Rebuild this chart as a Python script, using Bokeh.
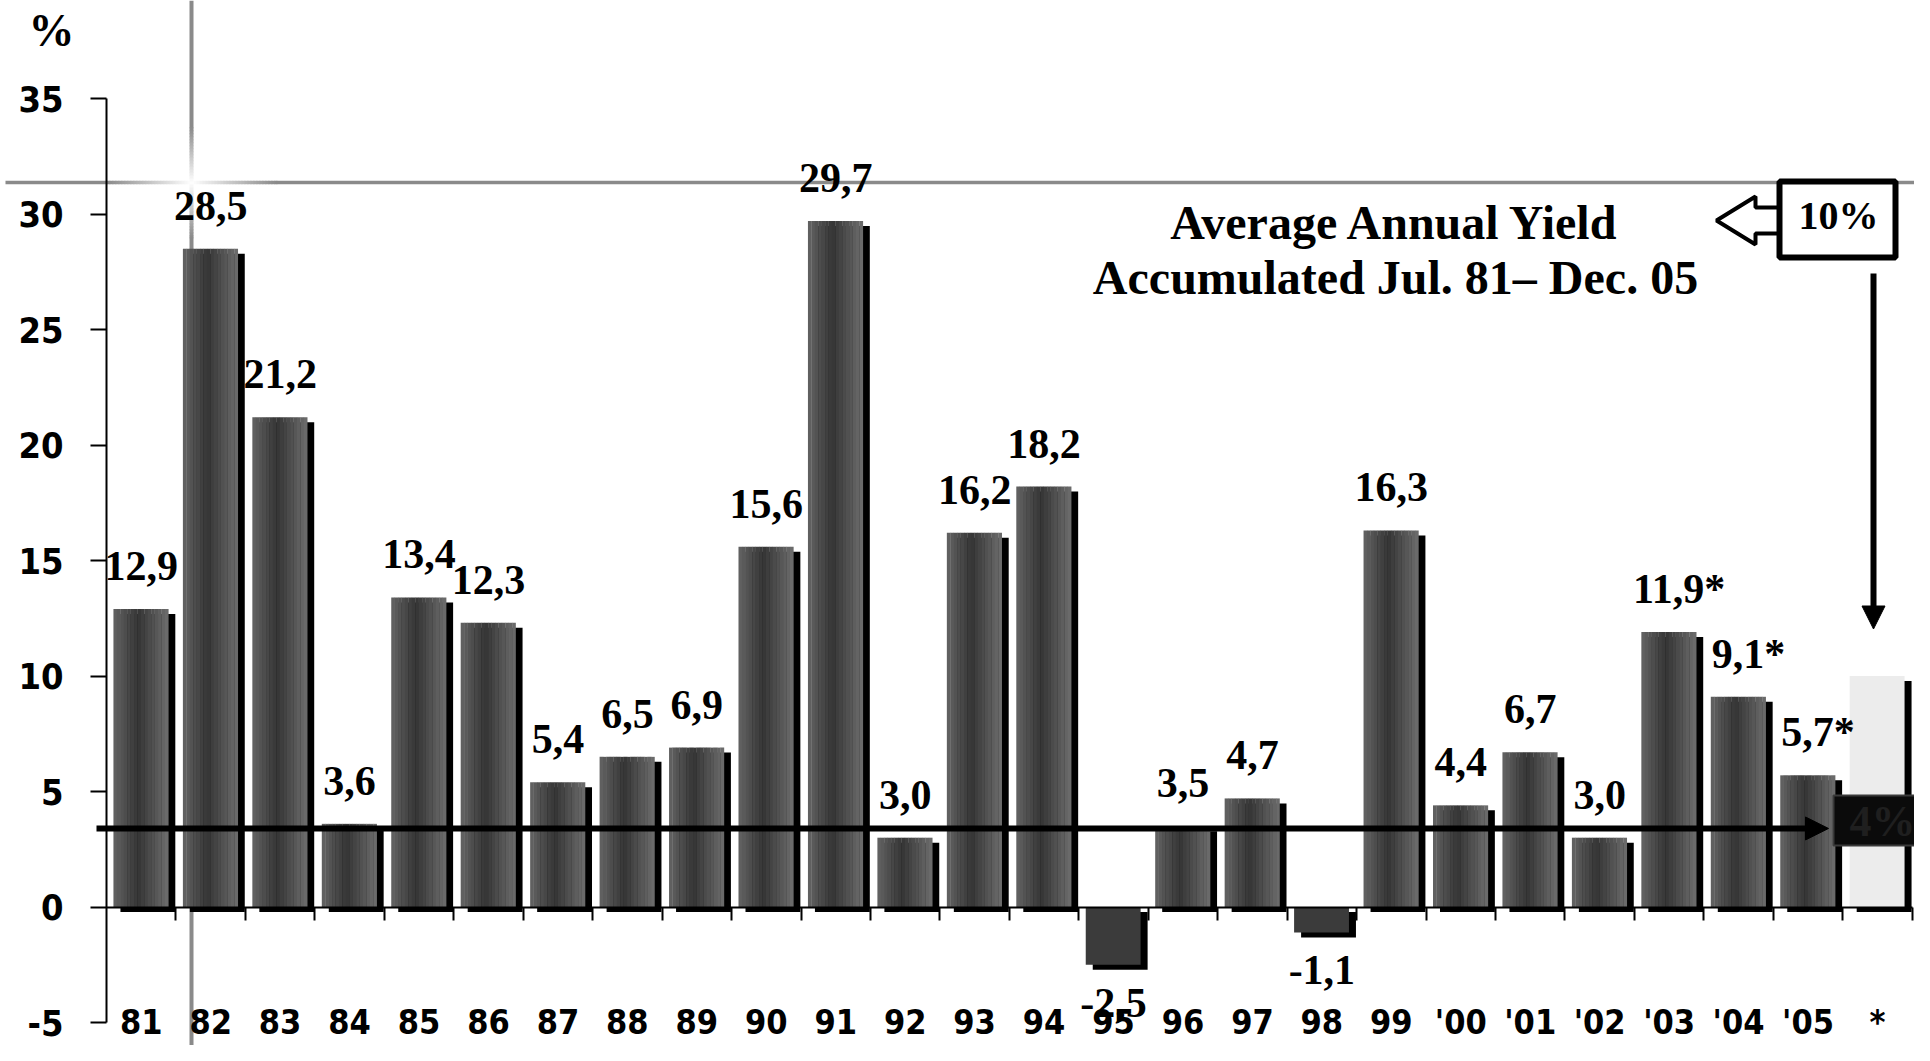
from bokeh.plotting import figure
from bokeh.models import Range1d, FixedTicker, Label, Arrow, NormalHead, LinearAxis, ColumnDataSource
from bokeh.core.properties import value
from bokeh.embed import file_html
from bokeh.resources import INLINE

# ---------------- data ----------------
categories = ["81", "82", "83", "84", "85", "86", "87", "88", "89", "90", "91", "92", "93",
              "94", "95", "96", "97", "98", "99", "'00", "'01", "'02", "'03", "'04", "'05", "*"]
yields = [12.9, 28.5, 21.2, 3.6, 13.4, 12.3, 5.4, 6.5, 6.9, 15.6, 29.7, 3.0, 16.2,
          18.2, -2.5, 3.5, 4.7, -1.1, 16.3, 4.4, 6.7, 3.0, 11.9, 9.1, 5.7]
estimated = ["'03", "'04", "'05"]
accum_yield = 10.0          # the "*" bar
accum_label = "10%"
avg_line_value = 3.4
avg_label = "4%"
y_ticks = [-5, 0, 5, 10, 15, 20, 25, 30, 35]
title_lines = ["Average Annual Yield", "Accumulated Jul. 81\u2013 Dec. 05"]
unit_label = "%"

# ---------------- geometry (pixel helpers) ----------------
PXX, PXY = 69.45, 23.1
X0, Z = 106, 906.5          # pixel position of x=0 and y=0
W, H = 1914, 1045

def rx(xp):
    return (xp - X0) / PXX

def ry(yp):
    return (Z - yp) / PXY

SERIF = "Liberation Serif"
COND = "DejaVu Sans Condensed, DejaVu Sans, sans-serif"

p = figure(width=W, height=H, output_backend="svg", toolbar_location=None,
           x_range=Range1d(rx(0), rx(W)), y_range=Range1d(ry(H), ry(0)),
           min_border_left=0, min_border_right=0, min_border_top=0, min_border_bottom=0)
p.outline_line_color = None
p.grid.visible = False
p.background_fill_color = "white"

# y axis, drawn at x = 0
yax = p.yaxis[0]
yax.fixed_location = 0
yax.ticker = FixedTicker(ticks=y_ticks)
yax.major_label_overrides = {t: str(t) for t in y_ticks}
yax.bounds = (y_ticks[0], y_ticks[-1])
yax.axis_line_width = 2
yax.axis_line_color = "black"
yax.major_tick_line_width = 2
yax.major_tick_out = 16
yax.major_tick_in = 0
yax.minor_tick_out = 0
yax.minor_tick_in = 0
yax.major_label_standoff = 27
yax.major_label_text_font = COND
yax.major_label_text_font_style = "bold"
yax.major_label_text_font_size = "36px"
yax.major_label_text_color = "black"

n = len(categories)
bounds_ticks = list(range(1, n + 1))
centers = [i + 0.5 for i in range(n)]

# x axis line + ticks between categories, drawn at y = 0
xax = p.xaxis[0]
xax.fixed_location = 0
xax.ticker = FixedTicker(ticks=bounds_ticks)
xax.major_label_overrides = {t: "" for t in bounds_ticks}
xax.bounds = (0, n)
xax.axis_line_width = 2
xax.axis_line_color = "black"
xax.major_tick_line_width = 2
xax.major_tick_out = 13
xax.major_tick_in = 0
xax.minor_tick_out = 0
xax.minor_tick_in = 0

# category labels (axis at y = 0, labels pushed to the bottom)
lab = LinearAxis(fixed_location=0, ticker=FixedTicker(ticks=centers),
                 major_label_overrides=dict(zip(centers, categories)))
lab.axis_line_color = None
lab.major_tick_out = 0
lab.major_tick_in = 0
lab.minor_tick_out = 0
lab.minor_tick_in = 0
lab.major_label_standoff = 95
lab.major_label_text_font = COND
lab.major_label_text_font_style = "bold"
lab.major_label_text_font_size = "34px"
lab.major_label_text_color = "black"
p.add_layout(lab, "below")

# ---------------- decorative gray cross with glow ----------------
GRAY = 0x8a

def glow(d, R):
    c = GRAY if d >= R else int(255 - (255 - GRAY) * (d / R))
    return "#%02x%02x%02x" % (c, c, c)

HX, HY = 191, 182
Rh = 85
xs = [5, HX - Rh] + list(range(HX - Rh + 3, HX + Rh, 3)) + [HX + Rh, W]
hx0, hx1, hc = [], [], []
for a, b in zip(xs[:-1], xs[1:]):
    hx0.append(rx(a)); hx1.append(rx(b + 0.8))
    hc.append(glow(abs((a + b) / 2 - HX), Rh))
p.segment(x0=hx0, x1=hx1, y0=[ry(HY)] * len(hx0), y1=[ry(HY)] * len(hx0),
          line_color=hc, line_width=3.5)

Rv = 55
ys = [0, HY - Rv] + list(range(HY - Rv + 3, HY + Rv, 3)) + [HY + Rv, H]
vy0, vy1, vc = [], [], []
for a, b in zip(ys[:-1], ys[1:]):
    vy0.append(ry(a)); vy1.append(ry(b + 0.8))
    vc.append(glow(abs((a + b) / 2 - HY), Rv))
p.segment(x0=[rx(HX)] * len(vy0), x1=[rx(HX)] * len(vy0), y0=vy0, y1=vy1,
          line_color=vc, line_width=4)

# ---------------- bars ----------------
all_vals = yields + [accum_yield]
BL, BW = 0.10, 0.79
SX, SY = 7 / PXX, 5 / PXY

p.quad(left=[i + BL + SX for i in range(n)], right=[i + BL + BW + SX for i in range(n)],
       top=[max(v, 0) - SY for v in all_vals], bottom=[min(v, 0) - SY for v in all_vals],
       fill_color="black", line_color=None)

NS = 16
sl, sr, st, sb, sc = [], [], [], [], []
for i, v in enumerate(yields):
    if v < 0:
        continue
    for k in range(NS):
        t = (k + 0.5) / NS
        c = int(0x36 + (0x6e - 0x36) * abs(t - 0.45) / 0.55)
        sl.append(i + BL + BW * k / NS)
        sr.append(i + BL + BW * (k + 1) / NS + 0.004)
        st.append(v); sb.append(0)
        sc.append("#%02x%02x%02x" % (c, c, c))
p.quad(left=sl, right=sr, top=st, bottom=sb, fill_color=sc, line_color=None)

neg = [i for i, v in enumerate(yields) if v < 0]
p.quad(left=[i + BL for i in neg], right=[i + BL + BW for i in neg],
       top=[0] * len(neg), bottom=[yields[i] for i in neg],
       fill_color="#3b3b3b", line_color=None)

ia = n - 1
p.quad(left=[ia + BL], right=[ia + BL + BW], top=[accum_yield], bottom=[0],
       fill_color="#ececec", line_color=None)

# ---------------- value labels ----------------
def fmt(v, cat):
    return ("%.1f" % v).replace(".", ",") + ("*" if cat in estimated else "")

pos = ColumnDataSource(dict(
    x=[i + 0.5 for i, v in enumerate(yields) if v >= 0],
    y=[v for v in yields if v >= 0],
    text=[fmt(v, categories[i]) for i, v in enumerate(yields) if v >= 0],
    xo=[10 if categories[i] in estimated else 0 for i, v in enumerate(yields) if v >= 0]))
p.text(x="x", y="y", text="text", x_offset="xo", y_offset=-43, source=pos,
       text_font=value(SERIF), text_font_style="bold", text_font_size="42px",
       text_align="center", text_baseline="middle", text_color="black")
p.text(x=[i + 0.5 for i in neg], y=[yields[i] for i in neg],
       text=[fmt(yields[i], categories[i]) for i in neg], y_offset=38,
       text_font=value(SERIF), text_font_style="bold", text_font_size="42px",
       text_align="center", text_baseline="middle", text_color="black")

# ---------------- average line ----------------
head = dict(fill_color="black", line_color="black", line_width=1)
p.add_layout(Arrow(x_start=rx(96), y_start=avg_line_value, x_end=rx(1828), y_end=avg_line_value,
                   line_width=6, line_color="black", end=NormalHead(size=23, **head)))
p.quad(left=[rx(1833)], right=[rx(1922)], top=[avg_line_value + 33 / PXY],
       bottom=[avg_line_value - 17 / PXY],
       fill_color="#0b0b0b", line_color="#3a3a3a", line_width=2)
p.text(x=[rx(1882)], y=[avg_line_value + 7 / PXY], text=[avg_label], text_font=value(SERIF),
       text_font_style="bold", text_font_size="44px", text_align="center",
       text_baseline="middle", text_color="#1f1f1f")

# ---------------- title + 10% box ----------------
p.text(x=[rx(1395)] * 2, y=[ry(222), ry(277)], text=title_lines, text_font=value(SERIF),
       text_font_style="bold", text_font_size="48px", text_align="center",
       text_baseline="middle", text_color="black")

p.patch(x=[rx(1716), rx(1755), rx(1755), rx(1780), rx(1780), rx(1755), rx(1755)],
        y=[ry(220), ry(196), ry(207), ry(207), ry(233), ry(233), ry(244)],
        fill_color="white", line_color="black", line_width=4)
p.quad(left=[rx(1779)], right=[rx(1895)], top=[ry(181)], bottom=[ry(257)],
       fill_color="white", line_color="black", line_width=6)
p.text(x=[rx(1838)], y=[ry(215)], text=[accum_label], text_font=value(SERIF),
       text_font_style="bold", text_font_size="40px", text_align="center",
       text_baseline="middle", text_color="black")
p.add_layout(Arrow(x_start=rx(1873), y_start=ry(273), x_end=rx(1873),
                   y_end=accum_yield + 47 / PXY,
                   line_width=6, line_color="black", end=NormalHead(size=23, **head)))

p.add_layout(Label(x=rx(51), y=ry(30), text=unit_label, text_font=SERIF,
                   text_font_style="bold", text_font_size="46px", text_align="center",
                   text_baseline="middle", text_color="black"))

open("out.html", "w").write(file_html(p, INLINE))
